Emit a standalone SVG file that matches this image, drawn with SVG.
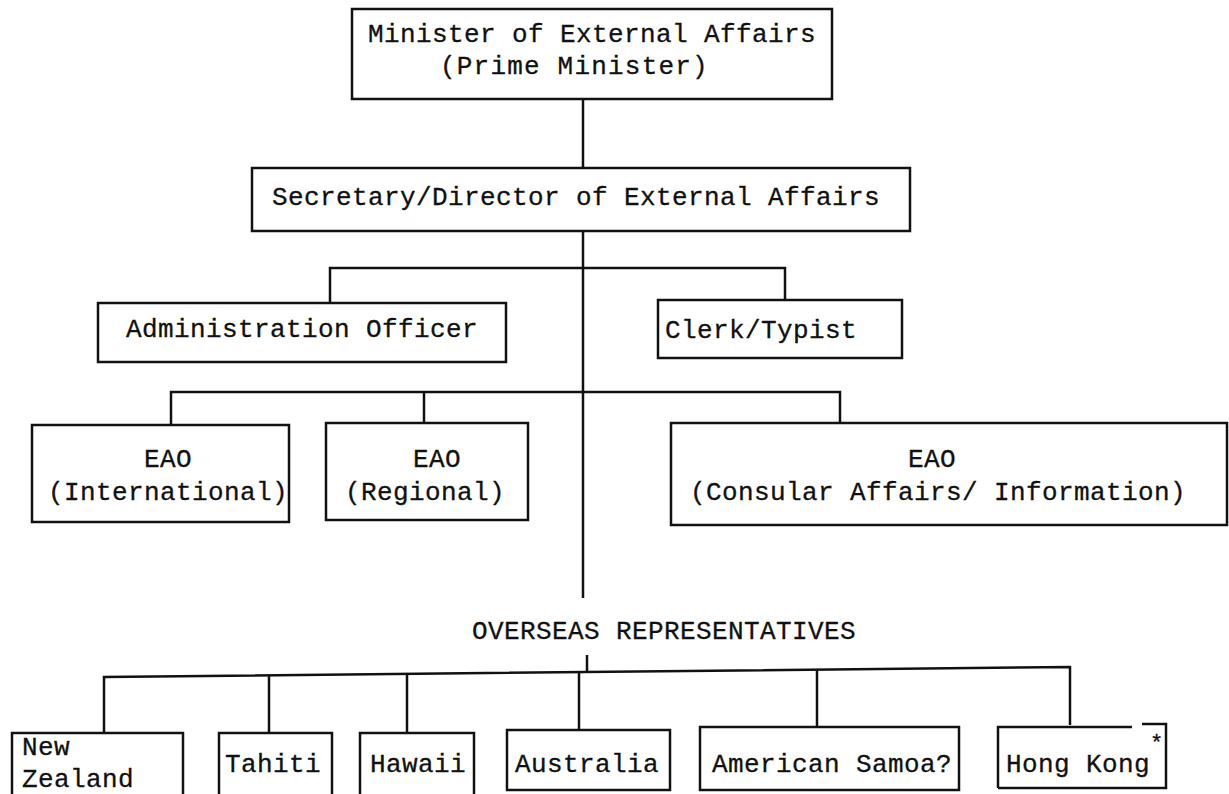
<svg xmlns="http://www.w3.org/2000/svg" width="1229" height="794" viewBox="0 0 1229 794">
<style>
.b{fill:none;stroke:#111;stroke-width:2.5;}
.c{fill:none;stroke:#111;stroke-width:2.5;}
.t{font-family:"Liberation Mono","Courier New",monospace;font-size:26px;letter-spacing:0.4px;fill:#111;stroke:#111;stroke-width:0.3;}
.m{text-anchor:middle;}
</style>
<rect width="1229" height="794" fill="#fff"/>
<g id="connectors">
<path class="c" d="M583 99 V168"/>
<path class="c" d="M583 231 V598"/>
<path class="c" d="M330 303 V268 H785 V300"/>
<path class="c" d="M171 425 V392 H840 V423"/>
<path class="c" d="M424 392 V423"/>
<path class="c" d="M587 655 V672"/>
<path class="c" d="M104 733 V677 L1070 667 V725"/>
<path class="c" d="M269 676 V733"/>
<path class="c" d="M407 675 V733"/>
<path class="c" d="M579 673 V730"/>
<path class="c" d="M817 670 V727"/>
</g>
<g id="minister">
<rect class="b" x="352" y="9" width="480" height="90"/>
<text class="t" x="368" y="42">Minister of External Affairs</text>
<text class="t" x="440" y="74" style="letter-spacing:1.2px">(Prime Minister)</text>
</g>
<g id="secretary">
<rect class="b" x="252" y="168" width="658" height="63"/>
<text class="t" x="272" y="205">Secretary/Director of External Affairs</text>
</g>
<g id="admin">
<rect class="b" x="98" y="303" width="408" height="59"/>
<text class="t" x="126" y="337">Administration Officer</text>
</g>
<g id="clerk">
<rect class="b" x="658" y="300" width="244" height="58"/>
<text class="t" x="665" y="338">Clerk/Typist</text>
</g>
<g id="eao-international">
<rect class="b" x="32" y="425" width="257" height="97"/>
<text class="t m" x="168" y="467">EAO</text>
<text class="t" x="48" y="500">(International)</text>
</g>
<g id="eao-regional">
<rect class="b" x="326" y="423" width="202" height="97"/>
<text class="t m" x="437" y="467">EAO</text>
<text class="t" x="345" y="500">(Regional)</text>
</g>
<g id="eao-consular">
<rect class="b" x="671" y="423" width="556" height="102"/>
<text class="t m" x="932" y="467">EAO</text>
<text class="t" x="690" y="500">(Consular Affairs/ Information)</text>
</g>
<g id="overseas">
<text class="t" x="472" y="639">OVERSEAS REPRESENTATIVES</text>
</g>
<g id="new-zealand">
<path class="b" d="M12 800 V733 H183 V800"/>
<text class="t" x="22" y="755">New</text>
<text class="t" x="22" y="787">Zealand</text>
</g>
<g id="tahiti">
<path class="b" d="M219 800 V733 H332 V800"/>
<text class="t" x="225" y="772">Tahiti</text>
</g>
<g id="hawaii">
<path class="b" d="M360 800 V733 H474 V800"/>
<text class="t" x="370" y="772">Hawaii</text>
</g>
<g id="australia">
<rect class="b" x="507" y="730" width="163" height="60"/>
<text class="t" x="515" y="772">Australia</text>
</g>
<g id="american-samoa">
<rect class="b" x="700" y="727" width="259" height="63"/>
<text class="t" x="712" y="772">American Samoa?</text>
</g>
<g id="hong-kong">
<path class="b" d="M998 788 V727 H1132 M1142 724 H1166 V788 H998"/>
<text class="t" x="1006" y="772">Hong Kong</text>
<text class="t" x="1150" y="750" style="font-size:22px">*</text>
</g>
</svg>
